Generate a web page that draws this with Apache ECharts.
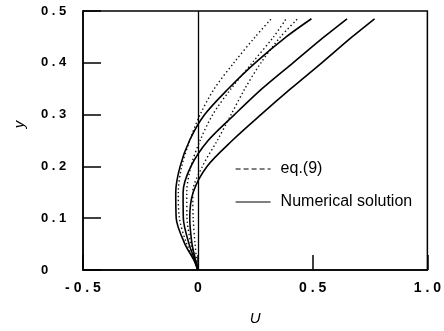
<!DOCTYPE html>
<html>
<head>
<meta charset="utf-8">
<script src="https://cdn.jsdelivr.net/npm/echarts@6/dist/echarts.min.js"></script>
<style>
html,body{margin:0;padding:0;background:#fff;}
#chart{width:444px;height:331px;}
</style>
</head>
<body>
<div id="chart"></div>
<script>
// shared y levels
const yLevels = [0, 0.02, 0.05, 0.1, 0.15, 0.2, 0.25, 0.3, 0.35, 0.4, 0.45, 0.485];
// Numerical solution (solid)
const numU1 = [0, -0.018, -0.056, -0.094, -0.096, -0.077, -0.036, 0.030, 0.133, 0.250, 0.385, 0.495];
const numU2 = [0, -0.014, -0.038, -0.063, -0.064, -0.030, 0.045, 0.160, 0.280, 0.415, 0.550, 0.650];
const numU3 = [0, -0.010, -0.025, -0.035, -0.020, 0.040, 0.150, 0.275, 0.405, 0.540, 0.672, 0.770];
// eq.(9) (dotted)
const eqU1 = [0, -0.015, -0.048, -0.080, -0.085, -0.070, -0.035, 0.010, 0.072, 0.157, 0.250, 0.320];
const eqU2 = [0, -0.012, -0.030, -0.047, -0.048, -0.030, 0.010, 0.065, 0.145, 0.237, 0.330, 0.385];
const eqU3 = [0, -0.005, -0.012, -0.020, -0.022, 0.020, 0.085, 0.145, 0.205, 0.275, 0.360, 0.435];
const xTicks = [-0.5, 0, 0.5, 1.0];
const yTicks = [0, 0.1, 0.2, 0.3, 0.4, 0.5];
const eqName = 'eq.(9)';
const numName = 'Numerical solution';

function spaced(v) {
  if (Math.abs(v) < 1e-9) return '0';
  return v.toFixed(1).split('').join(' ');
}
function pts(us) { return yLevels.map((y, i) => [us[i], y]); }

const solid = {type: 'solid', width: 1.6, color: '#000'};
const dotted = {type: [1.4, 2.6], width: 1.4, color: '#111'};

function mk(name, us, ls, extra) {
  return Object.assign({
    type: 'line', name: name, data: pts(us), smooth: 0.3, showSymbol: false,
    symbol: 'none', lineStyle: ls, itemStyle: {color: '#000'}, silent: true, animation: false
  }, extra || {});
}

const chart = echarts.init(document.getElementById('chart'), null, {renderer: 'canvas'});
chart.setOption({
  animation: false,
  backgroundColor: '#fff',
  grid: {left: 83, right: 12, top: 11, bottom: 59, show: true, borderColor: '#000', borderWidth: 1.5},
  xAxis: {
    type: 'value', min: xTicks[0], max: xTicks[xTicks.length - 1], interval: 0.5,
    name: 'U', nameLocation: 'middle', nameGap: 41,
    nameTextStyle: {fontFamily: 'Liberation Sans', fontStyle: 'italic', fontSize: 15, color: '#000'},
    axisLine: {show: true, onZero: false, lineStyle: {color: '#000', width: 1.5}},
    axisTick: {show: true, inside: true, length: 15, lineStyle: {color: '#000', width: 1.5}},
    axisLabel: {formatter: spaced, margin: 11, fontFamily: 'Liberation Sans', fontWeight: 'bold', fontSize: 14, color: '#000'},
    splitLine: {show: false}
  },
  yAxis: {
    type: 'value', min: yTicks[0], max: yTicks[yTicks.length - 1], interval: 0.1,
    name: 'y', nameLocation: 'middle', nameGap: 56,
    nameTextStyle: {fontFamily: 'Liberation Sans', fontStyle: 'italic', fontSize: 15, color: '#000', padding: [0, 0, 0, 32]},
    axisLine: {show: true, onZero: false, lineStyle: {color: '#000', width: 1.5}},
    axisTick: {show: true, inside: true, length: 18, lineStyle: {color: '#000', width: 1.5}},
    axisLabel: {formatter: spaced, margin: 42, align: 'left', fontFamily: 'Liberation Sans', fontWeight: 'bold', fontSize: 13, color: '#000'},
    splitLine: {show: false}
  },
  legend: {
    orient: 'vertical', left: 230, top: 156, itemWidth: 35, itemHeight: 14, itemGap: 17,
    selectedMode: false,
    itemStyle: {opacity: 0},
    textStyle: {fontFamily: 'Liberation Sans', fontSize: 16, color: '#000', padding: [0, 0, 0, 5]},
    data: [
      {name: eqName, itemStyle: {opacity: 0}, lineStyle: {type: [5, 3], width: 1, color: '#000'}},
      {name: numName, itemStyle: {opacity: 0}, lineStyle: {type: 'solid', width: 1.2, color: '#000'}}
    ]
  },
  series: [
    mk(eqName, eqU1, dotted),
    mk(eqName, eqU2, dotted),
    mk(eqName, eqU3, dotted),
    mk(numName, numU1, solid, {
      markLine: {silent: true, symbol: 'none', label: {show: false},
        lineStyle: {color: '#000', type: 'solid', width: 1.3}, data: [{xAxis: 0}], animation: false}
    }),
    mk(numName, numU2, solid),
    mk(numName, numU3, solid)
  ]
});
</script>
</body>
</html>
